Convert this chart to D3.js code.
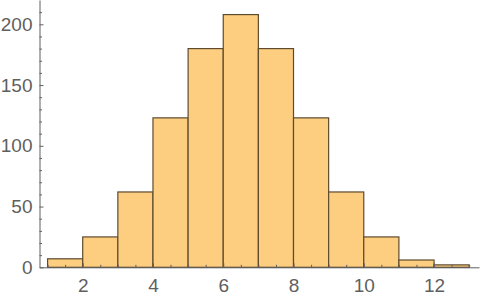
<!DOCTYPE html>
<html>
<head>
<meta charset="utf-8">
<script src="https://cdn.jsdelivr.net/npm/d3@7"></script>
<style>
    body { margin: 0; background: #fff; }
    svg { display: block; }
</style>
</head>
<body>
<div id="chart"></div>
<script>
// bins: [start, start+1)
const binStarts = [1, 2, 3, 4, 5, 6, 7, 8, 9, 10, 11, 12];
const counts = [7, 25, 62, 123, 180, 208, 180, 123, 62, 25, 6, 2];
const xTickLabels = [2, 4, 6, 8, 10, 12];
const yTickLabels = [0, 50, 100, 150, 200];

const width = 482,
    height = 300,
    axisColor = '#606060',
    labelColor = '#5f5f5f';

let svg = d3.select('#chart')
    .append('svg')
    .attr('width', width)
    .attr('height', height);

let scaleX = d3.scaleLinear()
    .domain([0.77, 13.28])
    .range([39.5, 479]);

let scaleY = d3.scaleLinear()
    .domain([0, 220])
    .range([267.3, 0]);

// Bars
svg.append('g')
    .selectAll('rect')
    .data(counts)
    .enter()
    .append('rect')
    .attr('x', (d, i) => scaleX(binStarts[i]))
    .attr('y', d => scaleY(d))
    .attr('width', (d, i) => scaleX(binStarts[i] + 1) - scaleX(binStarts[i]))
    .attr('height', d => scaleY(0) - scaleY(d))
    .attr('fill', '#fdcd80')
    .attr('stroke', '#5e4b2e')
    .attr('stroke-width', 1.2);

// X axis
let xAxis = d3.axisBottom(scaleX)
    .tickValues(xTickLabels)
    .tickSizeInner(-4)
    .tickSizeOuter(0)
    .tickPadding(11);

let xMinor = d3.axisBottom(scaleX)
    .tickValues(d3.range(1, 13.01, 0.5).filter(v => xTickLabels.indexOf(v) < 0))
    .tickSizeInner(-2.5)
    .tickSizeOuter(0)
    .tickFormat('');

let gx = svg.append('g')
    .attr('transform', 'translate(0,' + scaleY(0) + ')')
    .call(xAxis);
svg.append('g')
    .attr('transform', 'translate(0,' + scaleY(0) + ')')
    .call(xMinor)
    .select('.domain').remove();

// Y axis
let yAxis = d3.axisLeft(scaleY)
    .tickValues(yTickLabels)
    .tickSizeInner(-4)
    .tickSizeOuter(0)
    .tickPadding(7);

let yMinor = d3.axisLeft(scaleY)
    .tickValues(d3.range(10, 220, 10).filter(v => v % 50 != 0))
    .tickSizeInner(-2.5)
    .tickSizeOuter(0)
    .tickFormat('');

let gy = svg.append('g')
    .attr('transform', 'translate(' + scaleX.range()[0] + ',0)')
    .call(yAxis);
svg.append('g')
    .attr('transform', 'translate(' + scaleX.range()[0] + ',0)')
    .call(yMinor)
    .select('.domain').remove();

svg.selectAll('.domain, .tick line')
    .attr('stroke', axisColor)
    .attr('stroke-width', 1);

svg.selectAll('.tick text')
    .attr('fill', labelColor)
    .style('font-family', '"Liberation Sans", Arial, sans-serif')
    .style('font-size', '19px');
</script>
</body>
</html>
